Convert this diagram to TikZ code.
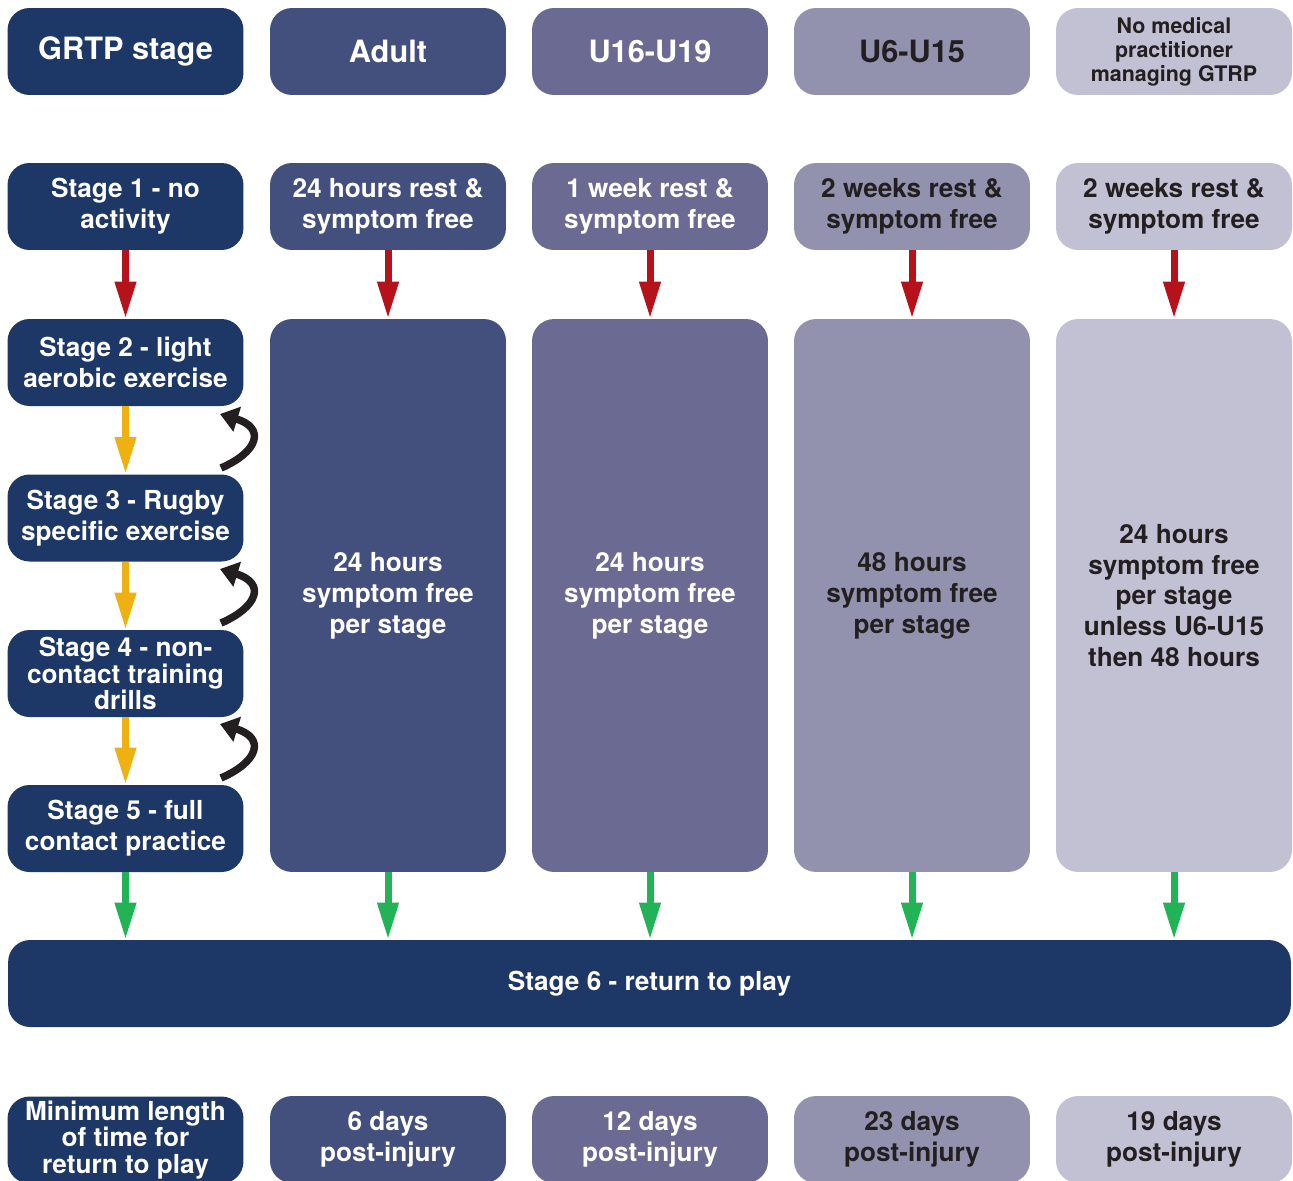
\documentclass[tikz,border=0pt]{standalone}
\usepackage{fontspec}
\setmainfont{TeX Gyre Heros}
\usetikzlibrary{arrows.meta}
\definecolor{navy}{HTML}{1D3767}
\definecolor{adult}{HTML}{434F7D}
\definecolor{youth}{HTML}{6A6A93}
\definecolor{junior}{HTML}{9292AF}
\definecolor{nomed}{HTML}{C2C1D4}
\definecolor{ink}{HTML}{231F20}
\definecolor{redarr}{HTML}{B5121B}
\definecolor{yelarr}{HTML}{EEB111}
\definecolor{grnarr}{HTML}{22B357}
\tikzset{
  box/.style={rounded corners=0.44cm, minimum width=4.72cm, minimum height=1.74cm,
    inner sep=0pt, align=center, text=white,
    font=\bfseries\fontsize{14.9}{17.6}\selectfont},
  tall/.style={box, minimum height=11.06cm},
  tight/.style={font=\bfseries\fontsize{14.9}{15.2}\selectfont},
  darktext/.style={text=ink},
  flow/.style={line width=0.14cm, -{Triangle[width=0.4cm,length=0.74cm]}},
  back/.style={line width=0.15cm, ink, -{Triangle[width=0.5cm,length=0.36cm]}}
}
\begin{document}
\begin{tikzpicture}[x=0.02cm,y=-0.02cm]
  \useasboundingbox (0,0) rectangle (1293,1180);
  \node[box, fill=navy] (h0) at (125.5,51.5) {\fontsize{17.5}{20}\selectfont GRTP stage};
  \node[box, fill=adult] (h1) at (388,51.5) {\fontsize{17.5}{20}\selectfont Adult};
  \node[box, fill=youth] (h2) at (650,51.5) {\fontsize{17.5}{20}\selectfont U16-U19};
  \node[box, fill=junior, darktext] (h3) at (912,51.5) {\fontsize{17.5}{20}\selectfont U6-U15};
  \node[box, fill=nomed, darktext, font=\bfseries\fontsize{12.2}{13.6}\selectfont] (h4) at (1174,51.5)
    {No medical\\practitioner\\managing GTRP};

  \node[box, fill=navy] (s1) at (125.5,206.5) {Stage 1 - no\\activity};
  \node[box, fill=adult] (a1) at (388,206.5) {24 hours rest \&\\symptom free};
  \node[box, fill=youth] (y1) at (650,206.5) {1 week rest \&\\symptom free};
  \node[box, fill=junior, darktext] (j1) at (912,206.5) {2 weeks rest \&\\symptom free};
  \node[box, fill=nomed, darktext] (n1) at (1174,206.5) {2 weeks rest \&\\symptom free};

  \node[box, fill=navy] (s2) at (125.5,362.5) {Stage 2 - light\\aerobic exercise};
  \node[box, fill=navy] (s3) at (125.5,518) {Stage 3 - Rugby\\specific exercise};
  \node[box, fill=navy, tight] (s4) at (125.5,673.5) {Stage 4 - non-\\contact training\\drills};
  \node[box, fill=navy] (s5) at (125.5,828.5) {Stage 5 - full\\contact practice};

  \node[tall, fill=adult] (a2) at (388,595.5) {24 hours\\symptom free\\per stage};
  \node[tall, fill=youth] (y2) at (650,595.5) {24 hours\\symptom free\\per stage};
  \node[tall, fill=junior, darktext] (j2) at (912,595.5) {48 hours\\symptom free\\per stage};
  \node[tall, fill=nomed, darktext] (n2) at (1174,595.5)
    {24 hours\\symptom free\\per stage\\unless U6-U15\\then 48 hours};

  \node[box, fill=navy, minimum width=25.66cm] (s6) at (649.5,983.5) {Stage 6 - return to play};

  \node[box, fill=navy, tight] (m0) at (125.5,1140) {Minimum length\\of time for\\return to play};
  \node[box, fill=adult] (m1) at (388,1139.5) {6 days\\post-injury};
  \node[box, fill=youth] (m2) at (650,1139.5) {12 days\\post-injury};
  \node[box, fill=junior, darktext] (m3) at (912,1139.5) {23 days\\post-injury};
  \node[box, fill=nomed, darktext] (m4) at (1174,1139.5) {19 days\\post-injury};

  \coordinate (r2a) at (221,468);
  \coordinate (r2b) at (220,414);
  \coordinate (r3a) at (221,623);
  \coordinate (r3b) at (220,569);
  \coordinate (r4a) at (221,778);
  \coordinate (r4b) at (220,724);

  \begin{scope}[flow, redarr]
    \draw (s1) to (s2);
    \draw (a1) to (a2);
    \draw (y1) to (y2);
    \draw (j1) to (j2);
    \draw (n1) to (n2);
  \end{scope}
  \begin{scope}[flow, yelarr]
    \draw (s2) to (s3);
    \draw (s3) to (s4);
    \draw (s4) to (s5);
  \end{scope}
  \begin{scope}[flow, grnarr]
    \draw (s5.south) to (s5.south |- s6.north);
    \draw (a2.south) to (a2.south |- s6.north);
    \draw (y2.south) to (y2.south |- s6.north);
    \draw (j2.south) to (j2.south |- s6.north);
    \draw (n2.south) to (n2.south |- s6.north);
  \end{scope}
  \begin{scope}[back]
    \draw (r2a) .. controls (258,452) and (266,428) .. (r2b);
    \draw (r3a) .. controls (258,607) and (266,583) .. (r3b);
    \draw (r4a) .. controls (258,762) and (266,738) .. (r4b);
  \end{scope}
\end{tikzpicture}
\end{document}
